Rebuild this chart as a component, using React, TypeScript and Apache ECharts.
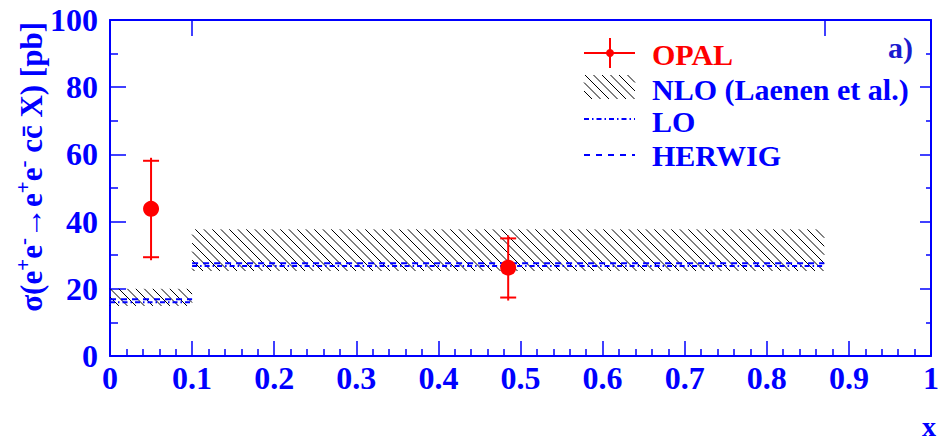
import React, { useEffect, useRef } from 'react';
import * as echarts from 'echarts';

// bins of the x distribution
const binLow = [0, 0.1];
const binHigh = [0.1, 0.87];
// NLO (Laenen et al.) band
const nloLow = [14.9, 25.3];
const nloHigh = [20.0, 37.7];
// LO and HERWIG predictions
const loValues = [16.0, 26.8];
const herwigValues = [16.9, 27.6];
// OPAL measurement
const opalX = [0.05, 0.485];
const opalY = [43.8, 26.3];
const opalErrLow = [29.4, 17.4];
const opalErrHigh = [58.1, 35.0];
// axis ticks
const xTicks = ['0', '0.1', '0.2', '0.3', '0.4', '0.5', '0.6', '0.7', '0.8', '0.9', '1'];
const binEdgeTicks = [0.1, 0.87];

const BLUE = '#0000ff';
const RED = '#ff0000';
const FONT = "'Liberation Serif', 'Times New Roman', serif";

// diagonal hatch lines "\\\" clipped to a rectangle
const hatchLines = (x0: number, y0: number, x1: number, y1: number, step: number) => {
  const out: { x1: number; y1: number; x2: number; y2: number }[] = [];
  const kMin = Math.ceil((x0 - y1) / step);
  const kMax = Math.floor((x1 - y0) / step);
  for (let k = kMin; k <= kMax; k++) {
    const c = k * step;
    const xa = Math.max(x0, y0 + c);
    const xb = Math.min(x1, y1 + c);
    if (xb > xa) out.push({ x1: xa, y1: xa - c, x2: xb, y2: xb - c });
  }
  return out;
};

const App: React.FC = () => {
  const chartRef = useRef<HTMLDivElement>(null);

  useEffect(() => {
    if (!chartRef.current) return;
    document.body.style.margin = '0';
    const chart = echarts.init(chartRef.current, null, { renderer: 'svg' });

    const nloData = binLow.map((b, i) => [b, binHigh[i], nloLow[i], nloHigh[i]]);
    const loData = binLow.map((b, i) => [b, binHigh[i], loValues[i]]);
    const herwigData = binLow.map((b, i) => [b, binHigh[i], herwigValues[i]]);
    const opalData = opalX.map((x, i) => [x, opalY[i], opalErrLow[i], opalErrHigh[i]]);

    const lineRenderer = (dash: number[]) => (params: any, api: any) => {
      const a = api.coord([api.value(0), api.value(2)]);
      const b = api.coord([api.value(1), api.value(2)]);
      return {
        type: 'line',
        shape: { x1: a[0], y1: a[1], x2: b[0], y2: b[1] },
        style: { stroke: BLUE, lineWidth: 2, lineDash: dash }
      };
    };

    const legendX0 = 584;
    const legendX1 = 635;
    const legendText = (text: string, y: number, color: string) => ({
      type: 'text',
      x: 652,
      y,
      style: {
        text,
        fill: color,
        font: `bold 30px ${FONT}`,
        textAlign: 'left',
        textVerticalAlign: 'middle'
      }
    });

    const option: any = {
      animation: false,
      grid: { left: 110, right: 6, top: 20, bottom: 85 },
      xAxis: [
        {
          type: 'value',
          min: 0,
          max: 1,
          interval: 0.1,
          axisLine: { onZero: false, lineStyle: { color: BLUE, width: 2 } },
          axisTick: { inside: true, length: 15, lineStyle: { color: BLUE, width: 1.5 } },
          minorTick: { show: true, splitNumber: 5, length: 7, lineStyle: { color: BLUE, width: 1.5 } },
          splitLine: { show: false },
          axisLabel: {
            margin: 6,
            color: BLUE,
            fontFamily: FONT,
            fontWeight: 'bold',
            fontSize: 32,
            formatter: (v: number) => xTicks[Math.round(v * 10)]
          }
        },
        {
          type: 'value',
          position: 'top',
          min: 0,
          max: 1,
          axisLine: { onZero: false, lineStyle: { color: BLUE, width: 2 } },
          axisTick: {
            inside: true,
            length: 16,
            customValues: binEdgeTicks,
            lineStyle: { color: BLUE, width: 1.5 }
          },
          axisLabel: { show: false },
          splitLine: { show: false }
        }
      ],
      yAxis: [
        {
          type: 'value',
          min: 0,
          max: 100,
          interval: 20,
          axisLine: { show: true, onZero: false, lineStyle: { color: BLUE, width: 2 } },
          axisTick: { show: true, inside: true, length: 16, lineStyle: { color: BLUE, width: 1.5 } },
          minorTick: { show: true, splitNumber: 2, length: 8, lineStyle: { color: BLUE, width: 1.5 } },
          splitLine: { show: false },
          axisLabel: {
            margin: 12,
            color: BLUE,
            fontFamily: FONT,
            fontWeight: 'bold',
            fontSize: 32
          }
        },
        {
          type: 'value',
          position: 'right',
          min: 0,
          max: 100,
          interval: 20,
          axisLine: { show: true, onZero: false, lineStyle: { color: BLUE, width: 2 } },
          axisTick: { show: true, inside: true, length: 11, lineStyle: { color: BLUE, width: 1.5 } },
          minorTick: { show: true, splitNumber: 2, length: 5, lineStyle: { color: BLUE, width: 1.5 } },
          splitLine: { show: false },
          axisLabel: { show: false }
        }
      ],
      series: [
        {
          name: 'NLO (Laenen et al.)',
          type: 'custom',
          data: nloData,
          renderItem: (params: any, api: any) => {
            const p0 = api.coord([api.value(0), api.value(3)]);
            const p1 = api.coord([api.value(1), api.value(2)]);
            return {
              type: 'group',
              children: hatchLines(p0[0], p0[1], p1[0], p1[1], 8.5).map(s => ({
                type: 'line',
                shape: s,
                style: { stroke: '#000', lineWidth: 1 }
              }))
            };
          }
        },
        {
          name: 'LO',
          type: 'custom',
          data: loData,
          renderItem: lineRenderer([5, 3, 1.5, 3])
        },
        {
          name: 'HERWIG',
          type: 'custom',
          data: herwigData,
          renderItem: lineRenderer([6, 5])
        },
        {
          name: 'OPAL',
          type: 'custom',
          data: opalData,
          z: 5,
          renderItem: (params: any, api: any) => {
            const c = api.coord([api.value(0), api.value(1)]);
            const lo = api.coord([api.value(0), api.value(2)])[1];
            const hi = api.coord([api.value(0), api.value(3)])[1];
            const st = { stroke: RED, lineWidth: 2 };
            return {
              type: 'group',
              children: [
                { type: 'line', shape: { x1: c[0], y1: hi - 3, x2: c[0], y2: lo + 3 }, style: st },
                { type: 'line', shape: { x1: c[0] - 8, y1: hi, x2: c[0] + 8, y2: hi }, style: st },
                { type: 'line', shape: { x1: c[0] - 8, y1: lo, x2: c[0] + 8, y2: lo }, style: st },
                { type: 'circle', shape: { cx: c[0], cy: c[1], r: 8 }, style: { fill: RED } }
              ]
            };
          }
        }
      ],
      graphic: [
        // y-axis title
        {
          type: 'text',
          x: 31,
          y: 22,
          rotation: Math.PI / 2,
          style: {
            text: '{m|σ(e}{s|+}{m|e}{s|-}{m|→e}{s|+}{m|e}{s|-}{m| cc\u0304 X) [pb]}',
            textAlign: 'right',
            textVerticalAlign: 'middle',
            fill: BLUE,
            rich: {
              m: { fontFamily: FONT, fontWeight: 'bold', fontSize: 31, fill: BLUE, lineHeight: 38 },
              s: { fontFamily: FONT, fontWeight: 'bold', fontSize: 21, fill: BLUE, verticalAlign: 'top', lineHeight: 38 }
            }
          }
        },
        // x-axis title
        {
          type: 'text',
          x: 929,
          y: 426,
          style: {
            text: 'x',
            fill: BLUE,
            font: `bold 28px ${FONT}`,
            textAlign: 'center',
            textVerticalAlign: 'middle'
          }
        },
        // panel label
        {
          type: 'text',
          x: 913,
          y: 47,
          style: {
            text: 'a)',
            fill: '#1a1ad0',
            font: `bold 30px ${FONT}`,
            textAlign: 'right',
            textVerticalAlign: 'middle'
          }
        },
        // legend: OPAL
        { type: 'line', shape: { x1: legendX0, y1: 53, x2: legendX1, y2: 53 }, style: { stroke: RED, lineWidth: 2 } },
        { type: 'line', shape: { x1: 610, y1: 38, x2: 610, y2: 68 }, style: { stroke: RED, lineWidth: 2 } },
        { type: 'circle', shape: { cx: 610, cy: 53, r: 4 }, style: { fill: RED } },
        legendText('OPAL', 54, RED),
        // legend: NLO
        {
          type: 'group',
          children: hatchLines(legendX0, 75, legendX1, 99, 8.5).map(s => ({
            type: 'line',
            shape: s,
            style: { stroke: '#000', lineWidth: 1 }
          }))
        },
        legendText('NLO (Laenen et al.)', 89, BLUE),
        // legend: LO
        {
          type: 'line',
          shape: { x1: legendX0, y1: 119, x2: legendX1, y2: 119 },
          style: { stroke: BLUE, lineWidth: 2, lineDash: [5, 3, 1.5, 3] }
        },
        legendText('LO', 121, BLUE),
        // legend: HERWIG
        {
          type: 'line',
          shape: { x1: legendX0, y1: 155, x2: legendX1, y2: 155 },
          style: { stroke: BLUE, lineWidth: 2, lineDash: [6, 6] }
        },
        legendText('HERWIG', 155, BLUE)
      ]
    };

    chart.setOption(option);
    return () => {
      chart.dispose();
    };
  }, []);

  return <div ref={chartRef} style={{ width: '942px', height: '441px' }} />;
};

export default App;
